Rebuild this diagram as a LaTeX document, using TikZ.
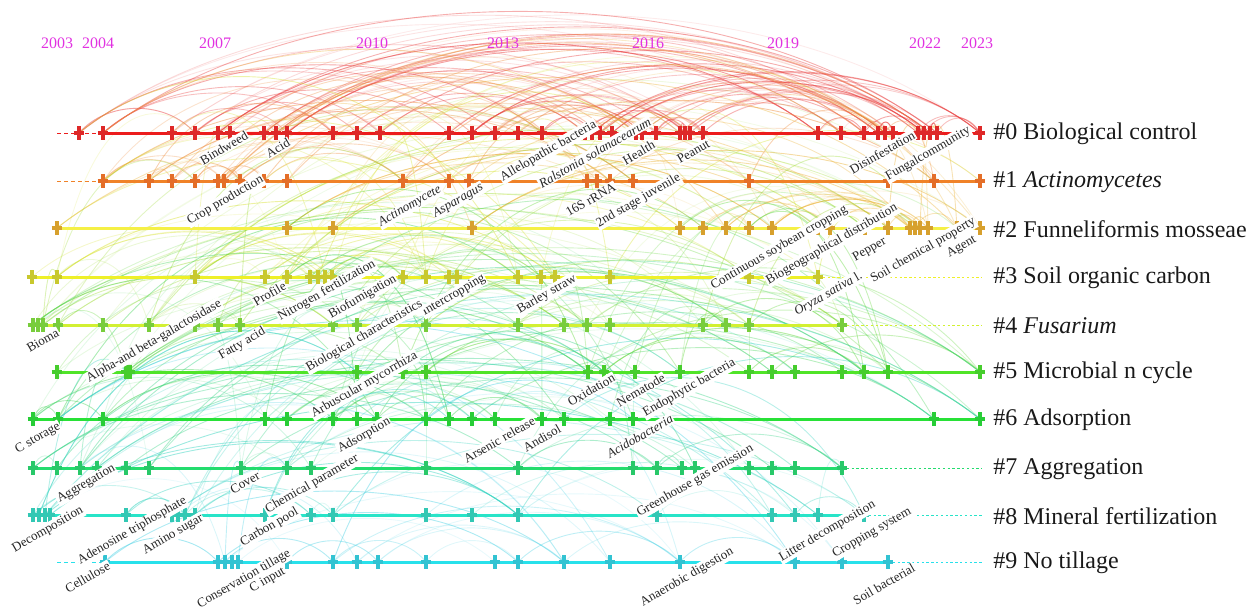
\documentclass[tikz,border=0pt]{standalone}
\usepackage{fontspec}
\setmainfont{Liberation Serif}
\usetikzlibrary{calc}
\definecolor{L0}{RGB}{236,28,28}
\definecolor{L1}{RGB}{240,130,40}
\definecolor{L2}{RGB}{245,240,70}
\definecolor{L3}{RGB}{238,240,40}
\definecolor{L4}{RGB}{210,240,50}
\definecolor{L5}{RGB}{80,228,40}
\definecolor{L6}{RGB}{40,225,55}
\definecolor{L7}{RGB}{35,220,110}
\definecolor{L8}{RGB}{40,228,200}
\definecolor{L9}{RGB}{40,225,235}
\definecolor{N0}{RGB}{222,40,40}
\definecolor{N1}{RGB}{228,110,40}
\definecolor{N2}{RGB}{215,160,45}
\definecolor{N3}{RGB}{200,200,45}
\definecolor{N4}{RGB}{120,205,60}
\definecolor{N5}{RGB}{70,205,45}
\definecolor{N6}{RGB}{40,205,55}
\definecolor{N7}{RGB}{40,200,105}
\definecolor{N8}{RGB}{50,200,180}
\definecolor{N9}{RGB}{50,195,210}
\definecolor{A0}{RGB}{232,60,60}
\definecolor{A1}{RGB}{238,140,60}
\definecolor{A2}{RGB}{235,180,60}
\definecolor{A3}{RGB}{215,225,50}
\definecolor{A4}{RGB}{160,220,60}
\definecolor{A5}{RGB}{100,215,60}
\definecolor{A6}{RGB}{60,210,80}
\definecolor{A7}{RGB}{50,210,130}
\definecolor{A8}{RGB}{50,210,190}
\definecolor{A9}{RGB}{60,205,225}
\definecolor{yrcol}{RGB}{225,50,225}
\newcommand\myarc[4]{\draw[arcst,draw=#3,draw opacity=#4] let \p1=(#1.center),\p2=(#2.center) in (\p1) .. controls ({\x1+0.25*(\x2-\x1)},{max(\y1,\y2)+0.18*abs(\x2-\x1)+6pt}) and ({\x2-0.25*(\x2-\x1)},{max(\y1,\y2)+0.18*abs(\x2-\x1)+6pt}) .. (\p2);}
\begin{document}
\begin{tikzpicture}[x=0.5pt,y=-0.5pt,
  pn/.style={inner sep=0pt,minimum width=5pt,minimum height=6.5pt},
  arcst/.style={line width=0.45pt},
  tl/.style={line width=1.5pt},
  dashl/.style={line width=0.5pt,dash pattern=on 2pt off 1.5pt},
  dotl/.style={line width=0.4pt,dash pattern=on 1.2pt off 1.2pt},
  crs/.style={line width=1.7pt},
  lab/.style={anchor=north east,rotate=30,font=\fontsize{6.5}{7}\selectfont,inner sep=0.5pt,fill=white,text=black!85},
  yr/.style={font=\fontsize{8}{9}\selectfont,text=yrcol,inner sep=0pt},
  cl/.style={anchor=west,font=\fontsize{12}{13}\selectfont,text=black!90,inner sep=0pt}]
\useasboundingbox (0,0) rectangle (1259,611);
% ---- nodes of the timelines
\def\rowdata{0/133/{79,103,172,195,218,230,264,276,287,333,357,380,449,472,495,518,542,585,592,600,612,636,642,656,680,685,690,703,818,841,864,878,885,893,918,924,930,937,980},
1/181/{103,149,172,195,218,224,240,264,287,403,449,469,587,597,610,633,749,888,934,980},
2/228/{57,287,333,472,680,703,726,749,772,818,830,865,888,910,915,920,928,957,980},
3/277/{32,57,195,265,287,310,318,325,332,403,426,449,457,518,541,555,610,749,818},
4/325/{33,38,43,58,103,149,195,218,240,333,357,426,518,564,587,610,703,726,749,842},
5/372/{57,126,130,357,403,426,588,604,635,680,749,772,795,842,864,888,980},
6/419/{33,58,103,265,287,333,357,377,426,449,472,495,542,564,610,633,934,980},
7/468/{33,57,80,97,126,149,241,287,311,426,518,633,657,682,695,749,772,795,842},
8/515/{33,39,45,50,126,172,178,185,195,265,311,333,426,472,518,657,772,795,818,864},
9/562/{105,218,225,232,238,287,333,357,378,426,495,518,564,610,680,795,842,888}}
\foreach \rr/\ry/\xs in \rowdata {
  \foreach \rx [count=\i] in \xs {
    \node[pn] (r\rr-\i) at (\rx,\ry) {};
    \xdef\lastcnt{\i}
  }
  \expandafter\xdef\csname cnt\rr\endcsname{\lastcnt}
  \coordinate (s\rr) at (57,\ry);
  \coordinate (e\rr) at (982,\ry);
}
% ---- arcs
\begin{scope}
\clip (0,0) rectangle (1259,611);
\pgfmathsetseed{12345}
\foreach \rr/\nin/\nup in {0/110/0,1/30/22,2/34/16,3/22/26,4/22/28,5/22/26,6/22/26,7/20/24,8/20/20,9/20/16}{
  \edef\ncnt{\csname cnt\rr\endcsname}
  \foreach \k in {1,...,\nin}{
    \pgfmathrandominteger{\ia}{1}{\ncnt}
    \pgfmathrandominteger{\ib}{1}{\ncnt}
    \pgfmathsetmacro\op{0.1+0.38*rnd}
    \ifnum\ia=\ib\relax\else\myarc{r\rr-\ia}{r\rr-\ib}{A\rr}{\op}\fi
  }
  \ifnum\nup>0
  \foreach \k in {1,...,\nup}{
    \pgfmathrandominteger{\ia}{1}{\ncnt}
    \pgfmathrandominteger{\dd}{1}{3}
    \pgfmathtruncatemacro\tr{max(\rr-\dd,0)}
    \edef\tcnt{\csname cnt\tr\endcsname}
    \pgfmathrandominteger{\ib}{1}{\tcnt}
    \pgfmathsetmacro\op{0.1+0.32*rnd}
    \myarc{r\rr-\ia}{r\tr-\ib}{A\rr}{\op}
  }
  \fi
}
\end{scope}
% ---- timelines
\draw[dashl,draw=L0] (s0) -- (r0-2.center);
\draw[tl,draw=L0] (r0-2.center) -- (r0-39.center);
\draw[dashl,draw=L1] (s1) -- (r1-1.center);
\draw[tl,draw=L1] (r1-1.center) -- (r1-20.center);
\draw[tl,draw=L2] (r2-1.center) -- (r2-19.center);
\draw[tl,draw=L3] (r3-1.center) -- (r3-19.center);
\draw[dotl,draw=L3] (r3-19.center) -- (e3);
\draw[tl,draw=L4] (r4-1.center) -- (r4-20.center);
\draw[dotl,draw=L4] (r4-20.center) -- (e4);
\draw[tl,draw=L5] (r5-1.center) -- (r5-17.center);
\draw[tl,draw=L6] (r6-1.center) -- (r6-18.center);
\draw[tl,draw=L7] (r7-1.center) -- (r7-19.center);
\draw[dotl,draw=L7] (r7-19.center) -- (e7);
\draw[tl,draw=L8] (r8-1.center) -- (r8-20.center);
\draw[dotl,draw=L8] (r8-20.center) -- (e8);
\draw[dashl,draw=L9] (s9) -- (r9-1.center);
\draw[tl,draw=L9] (r9-1.center) -- (r9-18.center);
\draw[dotl,draw=L9] (r9-18.center) -- (e9);
% ---- crosses
\foreach \rr in {0,...,9}{
  \edef\ncnt{\csname cnt\rr\endcsname}
  \foreach \i in {1,...,\ncnt}{
    \draw[crs,draw=N\rr] (r\rr-\i.north) -- (r\rr-\i.south) (r\rr-\i.west) -- (r\rr-\i.east);
  }
}
% ---- keyword labels
\foreach \lx/\ly/\lt [count=\i] in {
245/129/Bindweed, 287/136/Acid, 593/117/Allelopathic bacteria, 648/115/\textit{Ralstonia solanacearum},
652/138/Health, 707/137/Peanut, 912/128/Disinfestation, 967/123/Fungalcommunity,
260/172/Crop production, 438/182/\textit{Actinomycete}, 480/180/\textit{Asparagus}, 613/180/16S rRNA, 677/170/2nd stage juvenile,
844/202/Continuous soybean cropping, 894/200/Biogeographical distribution, 883/234/Pepper, 972/214/Soil chemical property, 973/232/Agent,
283/279/Profile, 372/256/Nitrogen fertilization, 393/271/Biofumigation, 482/271/Intercropping, 573/271/Barley straw, 859/268/\textit{Oryza sativa} l.,
56/326/Bioma, 218/296/Alpha-and beta-galactosidase, 262/324/Fatty acid, 419/296/Biological characteristics,
414/348/Arbuscular mycorrhiza, 612/371/Oxidation, 662/371/Nematode, 732/355/Endophytic bacteria,
57/419/C storage, 387/414/Adsorption, 532/414/Arsenic release, 558/422/Andisol, 670/412/\textit{Acidobacteria},
112/461/Aggregation, 257/469/Cover, 355/451/Chemical parameter, 750/441/Greenhouse gas emission,
80/503/Decomposition, 183/493/Adenosine triphosphate, 200/511/Amino sugar, 295/504/Carbon pool, 872/497/Litter decomposition, 908/504/Cropping system,
107/559/Cellulose, 287/546/Conservation tillage, 282/564/C input, 730/544/Anaerobic digestion, 912/561/Soil bacterial}{
  \node[lab] (k\i) at (\lx,\ly) {\lt};
}
% ---- years
\foreach \yx/\yl in {57/2003,98/2004,215/2007,372/2010,503/2013,648/2016,783/2019,925/2022,977/2023}{
  \node[yr] (y\yl) at (\yx,43) {\yl};
}
% ---- cluster labels
\node[cl] (c0) at (993,134) {\#0 Biological control};
\node[cl] (c1) at (993,182) {\#1 \textit{Actinomycetes}};
\node[cl] (c2) at (993,229) {\#2 Funneliformis mosseae};
\node[cl] (c3) at (993,278) {\#3 Soil organic carbon};
\node[cl] (c4) at (993,326) {\#4 \textit{Fusarium}};
\node[cl] (c5) at (993,373) {\#5 Microbial n cycle};
\node[cl] (c6) at (993,420) {\#6 Adsorption};
\node[cl] (c7) at (993,469) {\#7 Aggregation};
\node[cl] (c8) at (993,516) {\#8 Mineral fertilization};
\node[cl] (c9) at (993,563) {\#9 No tillage};
\end{tikzpicture}
\end{document}
